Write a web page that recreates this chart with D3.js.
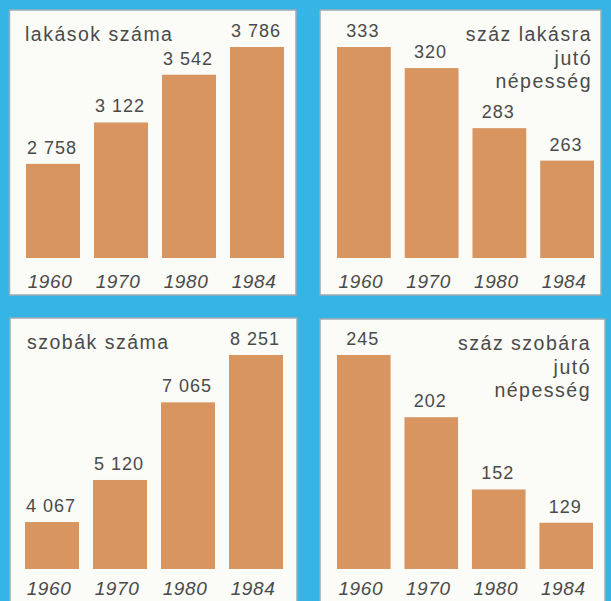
<!DOCTYPE html>
<html>
<head>
<meta charset="utf-8">
<script src="https://cdn.jsdelivr.net/npm/d3@7"></script>
<style>
  html, body { margin: 0; padding: 0; background: #35b4e6; }
  svg { display: block; }
  text { font-family: "Liberation Sans", Arial, Helvetica, sans-serif; fill: #4a4a4a; }
</style>
</head>
<body>
<svg id="chart" width="611" height="601"></svg>
<script>
// Years shared by all four panels
const years = ["1960", "1970", "1980", "1984"];

// Dwellings (thousands) and population per hundred dwellings
const dwellings = [2758, 3122, 3542, 3786];
const perHundredDwellings = [333, 320, 283, 263];

// Rooms (thousands) and population per hundred rooms
const rooms = [4067, 5120, 7065, 8251];
const perHundredRooms = [245, 202, 152, 129];

// Panel titles
const titleDwellings = ["lakások száma"];
const titlePerDwelling = ["száz lakásra", "jutó", "népesség"];
const titleRooms = ["szobák száma"];
const titlePerRoom = ["száz szobára", "jutó", "népesség"];

const fmt = v => d3.format(",")(v).replace(/,/g, " ");

const svg = d3.select("#chart");
svg.append("rect").attr("width", 611).attr("height", 601).attr("fill", "#35b4e6");

const panels = [
  { values: dwellings, title: titleDwellings, align: "left",
    box: [9.5, 10, 296, 295], bars: [26, 284], base: [258, 47], domain0: 1930,
    titleX: 25, titleY: 41, yearY: 288 },
  { values: perHundredDwellings, title: titlePerDwelling, align: "right",
    box: [320, 10, 601, 295], bars: [337, 594], base: [258, 47], domain0: 203,
    titleX: 592, titleY: 41, yearY: 288 },
  { values: rooms, title: titleRooms, align: "left",
    box: [10, 318, 297, 603], bars: [25, 283], base: [569, 355], domain0: 2890,
    titleX: 27, titleY: 349, yearY: 595 },
  { values: perHundredRooms, title: titlePerRoom, align: "right",
    box: [320, 319, 605, 603], bars: [337, 593], base: [569, 355], domain0: 97,
    titleX: 591, titleY: 350, yearY: 595 }
];

panels.forEach(p => {
  const g = svg.append("g");
  const [x0, y0, x1, y1] = p.box;

  g.append("rect")
    .attr("x", x0).attr("y", y0)
    .attr("width", x1 - x0).attr("height", y1 - y0)
    .attr("fill", "#fbfbf7")
    .attr("stroke", "#9eaab2")
    .attr("stroke-width", 1.5);

  const x = d3.scaleBand().domain(years).range(p.bars).paddingInner(0.206).paddingOuter(0);
  const y = d3.scaleLinear().domain([p.domain0, d3.max(p.values)]).range(p.base);

  g.selectAll("rect.bar")
    .data(p.values)
    .join("rect")
    .attr("class", "bar")
    .attr("x", (d, i) => x(years[i]))
    .attr("y", d => y(d))
    .attr("width", x.bandwidth())
    .attr("height", d => y(p.domain0) - y(d))
    .attr("fill", "#d8955f");

  g.selectAll("text.val")
    .data(p.values)
    .join("text")
    .attr("class", "val")
    .attr("x", (d, i) => x(years[i]) + x.bandwidth() / 2 - 1)
    .attr("y", d => y(d) - 10)
    .attr("text-anchor", "middle")
    .attr("font-size", 18)
    .attr("letter-spacing", 1)
    .text(d => fmt(d));

  g.selectAll("text.year")
    .data(years)
    .join("text")
    .attr("class", "year")
    .attr("x", d => x(d) + x.bandwidth() / 2 - 3)
    .attr("y", p.yearY)
    .attr("text-anchor", "middle")
    .attr("font-size", 19)
    .attr("font-style", "italic")
    .attr("letter-spacing", 0.6)
    .text(d => d);

  g.selectAll("text.title")
    .data(p.title)
    .join("text")
    .attr("class", "title")
    .attr("x", p.titleX)
    .attr("y", (d, i) => p.titleY + i * 23.5)
    .attr("text-anchor", p.align === "left" ? "start" : "end")
    .attr("font-size", 19.5)
    .attr("letter-spacing", 1.5)
    .text(d => d);
});
</script>
</body>
</html>
